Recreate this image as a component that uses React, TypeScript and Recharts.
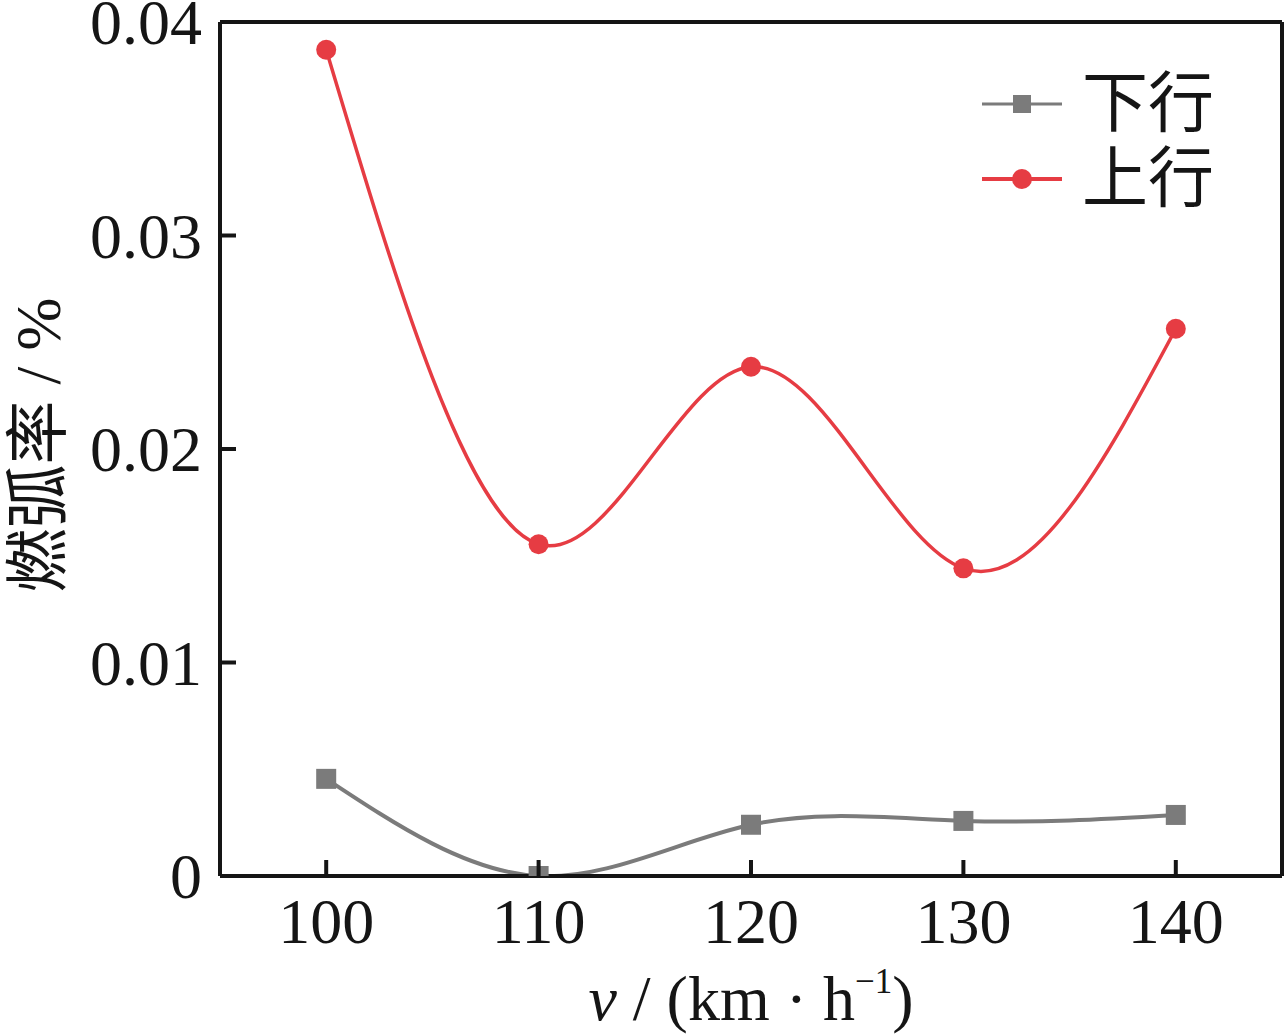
import { Line, LineChart, ReferenceLine, XAxis, YAxis } from "recharts";

const speeds = [100, 110, 120, 130, 140];
const downRate = [0.00455, 0, 0.0024, 0.00258, 0.00286];
const upRate = [0.0387, 0.01554, 0.02385, 0.01441, 0.02563];
const xTicks = [100, 110, 120, 130, 140];
const yTicks = [0, 0.01, 0.02, 0.03, 0.04];
const seriesNames = ["下行", "上行"];

const GRAY = "#7b7b7b";
const RED = "#e63c43";
const INK = "#151515";
const SERIF = "'Liberation Serif', 'Times New Roman', 'Noto Sans CJK SC', serif";
const CJK = "'Liberation Serif', 'Noto Sans CJK SC', serif";

const data = speeds.map((v, i) => ({ v, down: downRate[i], up: upRate[i] }));

const TICK_LEN = 16;
const X_GAP = 22;
const Y_GAP = 18;

function SquareDot(props: any) {
  const { cx, cy } = props;
  if (cx == null || cy == null) return null;
  return <rect x={cx - 10} y={cy - 10} width={20} height={20} fill={GRAY} />;
}

function XTick(props: any) {
  const { x, y, payload } = props;
  const axisY = y - X_GAP;
  return (
    <g>
      <line x1={x} y1={axisY} x2={x} y2={axisY - TICK_LEN} stroke={INK} strokeWidth={4} />
      <text x={x} y={y} dy="0.71em" textAnchor="middle" fontFamily={SERIF} fontSize={64} fill={INK}>
        {payload.value}
      </text>
    </g>
  );
}

function YTick(props: any) {
  const { x, y, payload } = props;
  const axisX = x + Y_GAP;
  const v = payload.value as number;
  return (
    <g>
      <line x1={axisX} y1={y} x2={axisX + TICK_LEN} y2={y} stroke={INK} strokeWidth={4} />
      <text x={x} y={y} dy="0.35em" textAnchor="end" fontFamily={SERIF} fontSize={64} fill={INK}>
        {v === 0 ? "0" : v.toFixed(2)}
      </text>
    </g>
  );
}

function XTitle(props: any) {
  const vb = props.viewBox || {};
  const cx = vb.x + vb.width / 2;
  return (
    <text x={cx} y={1020} textAnchor="middle" fontFamily={SERIF} fontSize={64} fill={INK}>
      <tspan fontStyle="italic">v</tspan>
      <tspan> / (km · h</tspan>
      <tspan dy={-27} fontSize={35}>−1</tspan>
      <tspan dy={27}>)</tspan>
    </text>
  );
}

function YTitle(props: any) {
  const vb = props.viewBox || {};
  const cy = vb.y + vb.height / 2 - 4;
  return (
    <text
      x={38}
      y={cy}
      transform={`rotate(-90, 38, ${cy})`}
      textAnchor="middle"
      dominantBaseline="central"
      fontFamily={CJK}
      fontSize={64}
      fill={INK}
    >
      燃弧率 / %
    </text>
  );
}

function LegendBox() {
  const rows = [
    { name: seriesNames[0], color: GRAY, shape: "square" },
    { name: seriesNames[1], color: RED, shape: "circle" },
  ];
  return (
    <div style={{ position: "absolute", left: 982, top: 66 }}>
      {rows.map((r) => (
        <div key={r.name} style={{ display: "flex", alignItems: "center", height: 75 }}>
          <svg width={100} height={30}>
            <line x1={0} y1={15} x2={80} y2={15} stroke={r.color} strokeWidth={r.shape === "circle" ? 4 : 3} />
            {r.shape === "square" ? (
              <rect x={31} y={6} width={18} height={18} fill={r.color} />
            ) : (
              <circle cx={40} cy={15} r={10} fill={r.color} />
            )}
          </svg>
          <span style={{ fontFamily: CJK, fontSize: 66, color: INK, lineHeight: 1 }}>{r.name}</span>
        </div>
      ))}
    </div>
  );
}

export default function App() {
  return (
    <div style={{ position: "absolute", left: 0, top: 0, width: 1285, height: 1036, background: "#fff" }}>
      <LineChart width={1285} height={1036} data={data} margin={{ top: 22, right: 3, left: 0, bottom: 0 }}>
        <XAxis
          dataKey="v"
          type="number"
          domain={[95, 145]}
          ticks={xTicks}
          height={160}
          axisLine={{ stroke: INK, strokeWidth: 4 }}
          tickLine={false}
          tickSize={0}
          tickMargin={X_GAP}
          tick={<XTick />}
          label={(p: any) => <XTitle {...p} />}
        />
        <YAxis
          type="number"
          domain={[0, 0.04]}
          allowDataOverflow
          ticks={yTicks}
          width={220}
          axisLine={{ stroke: INK, strokeWidth: 4 }}
          tickLine={false}
          tickSize={0}
          tickMargin={Y_GAP}
          tick={<YTick />}
          label={(p: any) => <YTitle {...p} />}
        />
        <ReferenceLine y={0.04} stroke={INK} strokeWidth={4} />
        <ReferenceLine x={145} stroke={INK} strokeWidth={4} />
        <Line
          type="natural"
          dataKey="down"
          stroke={GRAY}
          strokeWidth={4}
          dot={<SquareDot />}
          activeDot={false}
          isAnimationActive={false}
        />
        <Line
          type="natural"
          dataKey="up"
          stroke={RED}
          strokeWidth={3.5}
          dot={{ r: 10, fill: RED, stroke: RED, strokeWidth: 0 }}
          activeDot={false}
          isAnimationActive={false}
        />
      </LineChart>
      <LegendBox />
    </div>
  );
}
